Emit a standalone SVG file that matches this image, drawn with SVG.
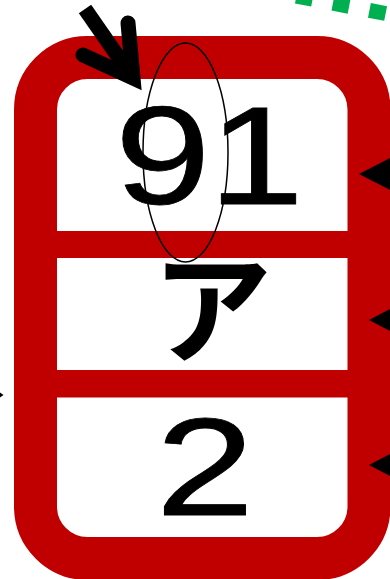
<svg xmlns="http://www.w3.org/2000/svg" width="390" height="579" viewBox="0 0 390 579">
<style>
.lbl{font-family:"Liberation Sans",Arial,sans-serif;font-size:140px;fill:#000;stroke:#000;stroke-width:0.8px}
.jp{font-family:"Noto Sans CJK JP","Noto Sans",sans-serif;font-size:120px;font-weight:700;fill:#000;text-anchor:middle}
.red{fill:#c00000}
.head{fill:#000}
</style>
<rect width="390" height="579" fill="#fff"/>
<g id="node-record">
  <rect x="35.5" y="57.5" width="333.5" height="501" rx="52" ry="52" fill="#fff" stroke="#c00000" stroke-width="43"/>
  <rect class="red" x="57" y="231" width="291" height="27"/>
  <rect class="red" x="57" y="370" width="291" height="27.5"/>
  <g id="field-91"><text class="lbl" transform="translate(114.7,204) scale(1.23,1)"><tspan x="0" y="0">9</tspan><tspan x="76" y="0">1</tspan></text></g>
  <g id="field-a"><text class="jp" x="212" y="354">ア</text></g>
  <g id="field-2"><text class="lbl" text-anchor="middle" transform="translate(205,515) scale(1.27,1)" x="0" y="0">2</text></g>
</g>
<g id="node-ellipse">
  <ellipse cx="185.5" cy="152.5" rx="42.5" ry="109.5" fill="none" stroke="#000" stroke-width="1.5"/>
</g>
<g id="connectors">
  <path d="M85,9 L133,78" stroke="#000" stroke-width="15" fill="none"/>
  <path d="M128,23 L133,78 L83,55" stroke="#000" stroke-width="15" fill="none" stroke-linecap="round" stroke-linejoin="miter" stroke-miterlimit="10"/>
  <path d="M296.4,-3.9 L420,20.2" stroke="#00b050" stroke-width="15" fill="none" stroke-dasharray="16.5 20.7"/>
  <polygon class="head" points="359,174 395,155.5 395,192.5"/>
  <polygon class="head" points="369,320 395,306.5 395,333.5"/>
  <polygon class="head" points="369,465 395,451.5 395,478.5"/>
  <polygon class="head" points="0,392.5 3.5,395 0,397.5"/>
</g>
</svg>
